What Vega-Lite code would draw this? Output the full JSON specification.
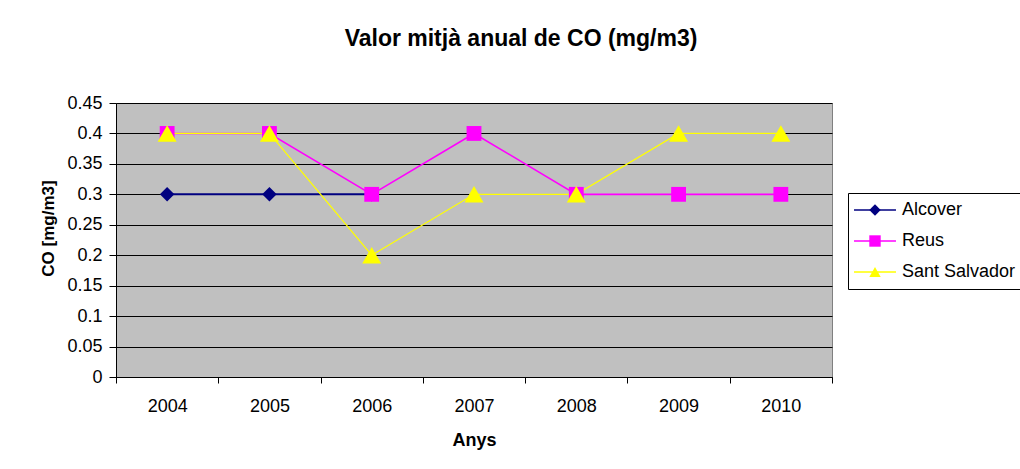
{
  "$schema": "https://vega.github.io/schema/vega-lite/v6.json",
  "width": 716,
  "height": 274,
  "autosize": {"type": "none"},
  "padding": {"left": 116, "top": 103, "right": 188, "bottom": 92},
  "background": "white",
  "config": {
    "font": "Liberation Sans",
    "view": {"fill": "#C0C0C0", "stroke": "#808080", "strokeWidth": 1}
  },
  "title": {
    "text": "Valor mitjà anual de CO (mg/m3)",
    "fontSize": 23,
    "fontWeight": "bold",
    "font": "Liberation Sans",
    "color": "black",
    "anchor": "middle",
    "frame": "group",
    "baseline": "alphabetic",
    "offset": 25,
    "dx": 47
  },
  "data": {
    "values": [
      {"series": "Alcover", "year": "2004", "value": 0.3},
      {"series": "Alcover", "year": "2005", "value": 0.3},
      {"series": "Alcover", "year": "2006", "value": 0.3},
      {"series": "Reus", "year": "2004", "value": 0.4},
      {"series": "Reus", "year": "2005", "value": 0.4},
      {"series": "Reus", "year": "2006", "value": 0.3},
      {"series": "Reus", "year": "2007", "value": 0.4},
      {"series": "Reus", "year": "2008", "value": 0.3},
      {"series": "Reus", "year": "2009", "value": 0.3},
      {"series": "Reus", "year": "2010", "value": 0.3},
      {"series": "Sant Salvador", "year": "2004", "value": 0.4},
      {"series": "Sant Salvador", "year": "2005", "value": 0.4},
      {"series": "Sant Salvador", "year": "2006", "value": 0.2},
      {"series": "Sant Salvador", "year": "2007", "value": 0.3},
      {"series": "Sant Salvador", "year": "2008", "value": 0.3},
      {"series": "Sant Salvador", "year": "2009", "value": 0.4},
      {"series": "Sant Salvador", "year": "2010", "value": 0.4}
    ]
  },
  "encoding": {
    "x": {
      "field": "year",
      "type": "ordinal",
      "scale": {"type": "band", "paddingInner": 0, "paddingOuter": 0},
      "axis": {
        "title": "Anys",
        "titleFontSize": 18,
        "titleFontWeight": "bold",
        "titleColor": "black",
        "titlePadding": 16,
        "labelAngle": 0,
        "labelFontSize": 18,
        "labelColor": "black",
        "labelPadding": 14,
        "tickBand": "extent",
        "tickSize": 6,
        "tickColor": "black",
        "domainColor": "black",
        "grid": false
      }
    },
    "y": {
      "field": "value",
      "type": "quantitative",
      "scale": {"domain": [0, 0.45], "nice": false},
      "axis": {
        "title": "CO [mg/m3]",
        "titleFontSize": 17,
        "titleFontWeight": "bold",
        "titleColor": "black",
        "titlePadding": 9,
        "titleY": 125,
        "values": [0, 0.05, 0.1, 0.15, 0.2, 0.25, 0.3, 0.35, 0.4, 0.45],
        "format": ".2~f",
        "labelFontSize": 18,
        "labelColor": "black",
        "labelPadding": 7,
        "tickSize": 7,
        "tickColor": "black",
        "domainColor": "black",
        "grid": true,
        "gridColor": "black",
        "gridOpacity": 1
      }
    }
  },
  "layer": [
    {
      "mark": {"type": "line"},
      "encoding": {
        "color": {
          "field": "series",
          "type": "nominal",
          "scale": {"domain": ["Alcover", "Reus", "Sant Salvador"], "range": ["#000080", "#FF00FF", "#FFFF00"]},
          "legend": {
            "orient": "none",
            "legendX": 732,
            "legendY": 90,
            "title": null,
            "symbolType": "M-4,0H4",
            "symbolSize": 110,
            "symbolStrokeWidth": 1.5,
            "symbolOffset": 10,
            "padding": 8,
            "strokeColor": "black",
            "labelFontSize": 18,
            "labelColor": "black",
            "labelOffset": 18,
            "labelLimit": 400,
            "rowPadding": 13
          }
        },
        "strokeWidth": {
          "field": "series",
          "type": "nominal",
          "scale": {"domain": ["Alcover", "Reus", "Sant Salvador"], "range": [2, 1.2, 1.2]},
          "legend": null
        }
      }
    },
    {
      "mark": {"type": "point", "filled": true, "opacity": 1, "strokeWidth": 0},
      "encoding": {
        "color": {
          "field": "series",
          "type": "nominal",
          "legend": {
            "orient": "none",
            "legendX": 732,
            "legendY": 90,
            "title": null,
            "symbolSize": 130,
            "symbolOffset": 10,
            "symbolOpacity": 1,
            "padding": 8,
            "labelFontSize": 18,
            "labelColor": "black",
            "labelOpacity": 0,
            "labelOffset": 18,
            "labelLimit": 400,
            "rowPadding": 13
          }
        },
        "shape": {
          "field": "series",
          "type": "nominal",
          "scale": {"domain": ["Alcover", "Reus", "Sant Salvador"], "range": ["diamond", "square", "triangle-up"]},
          "legend": {
            "orient": "none",
            "legendX": 732,
            "legendY": 90,
            "title": null,
            "symbolSize": 130,
            "symbolOffset": 10,
            "symbolOpacity": 1,
            "padding": 8,
            "labelFontSize": 18,
            "labelColor": "black",
            "labelOpacity": 0,
            "labelOffset": 18,
            "labelLimit": 400,
            "rowPadding": 13
          }
        },
        "size": {
          "field": "series",
          "type": "ordinal",
          "scale": {"type": "ordinal", "domain": ["Alcover", "Reus", "Sant Salvador"], "range": [210, 220, 360]},
          "legend": null
        }
      }
    }
  ],
  "resolve": {"legend": {"color": "independent", "shape": "independent"}}
}
